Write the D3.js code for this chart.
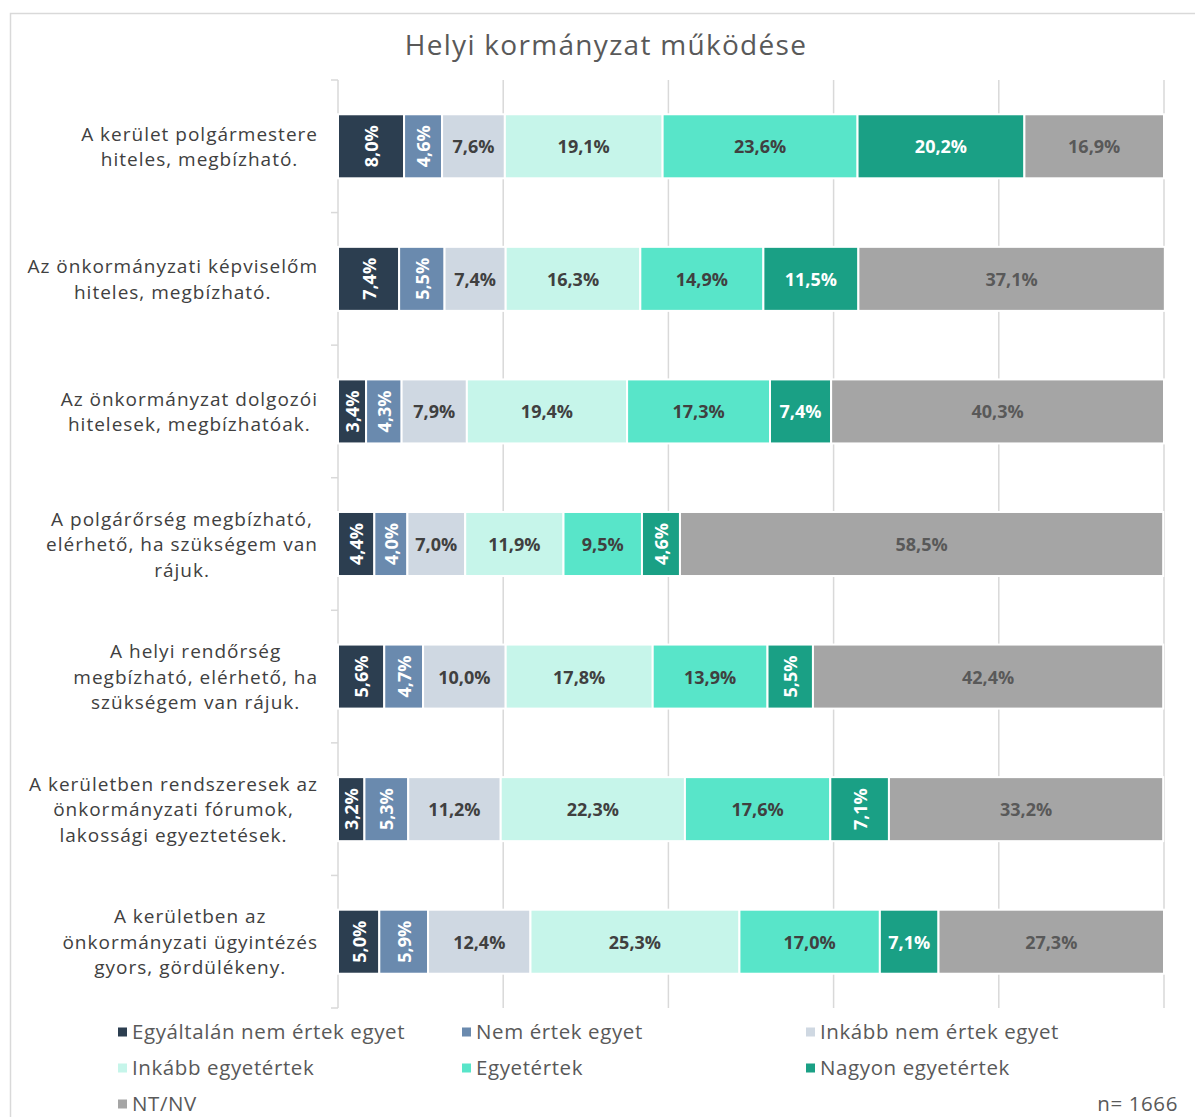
<!DOCTYPE html>
<html>
<head>
<meta charset="utf-8">
<script src="https://cdn.jsdelivr.net/npm/d3@7"></script>
<style>
  html, body { margin: 0; padding: 0; background: #fff; }
  svg { display: block; font-family: "Open Sans", sans-serif; }
</style>
</head>
<body>
<svg id="chart" width="1195" height="1117"></svg>
<script>
const title = "Helyi kormányzat működése";
const categories = [
  "A kerület polgármestere\nhiteles, megbízható.",
  "Az önkormányzati képviselőm\nhiteles, megbízható.",
  "Az önkormányzat dolgozói\nhitelesek, megbízhatóak.",
  "A polgárőrség megbízható,\nelérhető, ha szükségem van\nrájuk.",
  "A helyi rendőrség\nmegbízható, elérhető, ha\nszükségem van rájuk.",
  "A kerületben rendszeresek az\nönkormányzati fórumok,\nlakossági egyeztetések.",
  "A kerületben az\nönkormányzati ügyintézés\ngyors, gördülékeny."
];
const seriesNames = [
  "Egyáltalán nem értek egyet",
  "Nem értek egyet",
  "Inkább nem értek egyet",
  "Inkább egyetértek",
  "Egyetértek",
  "Nagyon egyetértek",
  "NT/NV"
];
const seriesColors = ["#2c3e50", "#6a8aae", "#cfd8e2", "#c6f5ea", "#58e5c9", "#1aa085", "#a5a5a5"];
const labelColors = ["#ffffff", "#ffffff", "#404040", "#404040", "#404040", "#ffffff", "#595959"];
// values per series (each array: one value per category, in category order)
const egyaltalanNem = [8.0, 7.4, 3.4, 4.4, 5.6, 3.2, 5.0];
const nemErtek      = [4.6, 5.5, 4.3, 4.0, 4.7, 5.3, 5.9];
const inkabbNem     = [7.6, 7.4, 7.9, 7.0, 10.0, 11.2, 12.4];
const inkabbIgen    = [19.1, 16.3, 19.4, 11.9, 17.8, 22.3, 25.3];
const egyetert      = [23.6, 14.9, 17.3, 9.5, 13.9, 17.6, 17.0];
const nagyonIgen    = [20.2, 11.5, 7.4, 4.6, 5.5, 7.1, 7.1];
const ntnv          = [16.9, 37.1, 40.3, 58.5, 42.4, 33.2, 27.3];
const seriesValues = [egyaltalanNem, nemErtek, inkabbNem, inkabbIgen, egyetert, nagyonIgen, ntnv];
const xTicks = [0, 20, 40, 60, 80, 100];
// labels drawn vertically: [categoryIndex, seriesIndex]
const verticalLabels = [
  [0,0],[1,0],[2,0],[3,0],[4,0],[5,0],[6,0],
  [0,1],[1,1],[2,1],[3,1],[4,1],[5,1],[6,1],
  [3,5],[4,5],[5,5]
];
const sampleNote = "n= 1666";

const svg = d3.select("#chart");
const W = 1195, H = 1117;
const margin = {left: 338, right: 31, top: 80, bottom: 109};

// frame
svg.append("path")
  .attr("d", `M10.5,${H + 5} L10.5,13.5 L${W + 5},13.5`)
  .attr("fill", "none").attr("stroke", "#d9d9d9").attr("stroke-width", 1.5);

svg.append("text")
  .attr("x", 606).attr("y", 55)
  .attr("text-anchor", "middle")
  .attr("font-size", 28).attr("letter-spacing", 1.3)
  .attr("fill", "#595959")
  .text(title);

const x = d3.scaleLinear().domain([0, 100]).range([margin.left, W - margin.right]);
const y = d3.scaleBand().domain(d3.range(categories.length))
  .range([margin.top, H - margin.bottom]).paddingInner(0.517).paddingOuter(0.2585);

// gridlines
svg.append("g").selectAll("line").data(xTicks.slice(1)).join("line")
  .attr("x1", d => x(d)).attr("x2", d => x(d))
  .attr("y1", margin.top).attr("y2", H - margin.bottom)
  .attr("stroke", "#d9d9d9").attr("stroke-width", 1.5);

// left axis with band ticks
const axisG = svg.append("g");
axisG.append("line")
  .attr("x1", x(0)).attr("x2", x(0))
  .attr("y1", margin.top).attr("y2", H - margin.bottom)
  .attr("stroke", "#d9d9d9").attr("stroke-width", 1.5);
const bounds = d3.range(categories.length + 1).map(i => margin.top + i * (H - margin.top - margin.bottom) / categories.length);
axisG.selectAll("line.tk").data(bounds).join("line").attr("class", "tk")
  .attr("x1", x(0) - 7).attr("x2", x(0))
  .attr("y1", d => d).attr("y2", d => d)
  .attr("stroke", "#d9d9d9").attr("stroke-width", 1.5);

// category labels
const lineH = 25.5;
categories.forEach((c, i) => {
  const lines = c.split("\n");
  const cy = y(i) + y.bandwidth() / 2;
  const t = svg.append("text")
    .attr("font-size", 19).attr("letter-spacing", 1.0).attr("fill", "#404040")
    .attr("text-anchor", "middle");
  lines.forEach((ln, k) => {
    t.append("tspan").attr("x", 0)
      .attr("y", cy + (k - (lines.length - 1) / 2) * lineH + 7)
      .text(ln);
  });
  // right-align the block of centered lines at x=318
  const bb = t.node().getBBox();
  t.attr("transform", `translate(${318 - bb.width / 2},0)`);
});

// stacked bars
const isVertical = (ci, si) => verticalLabels.some(p => p[0] === ci && p[1] === si);
categories.forEach((c, ci) => {
  let acc = 0;
  seriesValues.forEach((vals, si) => {
    const v = vals[ci];
    const x0 = x(acc), x1 = x(acc + v);
    acc += v;
    const g = svg.append("g");
    g.append("rect")
      .attr("x", x0).attr("y", y(ci))
      .attr("width", x1 - x0).attr("height", y.bandwidth())
      .attr("fill", seriesColors[si])
      .attr("stroke", "#ffffff").attr("stroke-width", 2);
    const cx = (x0 + x1) / 2, cy = y(ci) + y.bandwidth() / 2;
    const label = d3.format(".1f")(v).replace(".", ",") + "%";
    const txt = g.append("text")
      .attr("font-size", 18).attr("font-weight", 700)
      .attr("fill", labelColors[si])
      .attr("text-anchor", "middle")
      .attr("dominant-baseline", "central")
      .text(label);
    if (isVertical(ci, si)) {
      txt.attr("transform", `translate(${cx},${cy}) rotate(-90)`);
    } else {
      txt.attr("x", cx).attr("y", cy);
    }
  });
});

// legend
const legCols = [118, 462, 806];
const legRows = [1032, 1068, 1104];
seriesNames.forEach((n, i) => {
  const cx = legCols[i % 3], cy = legRows[Math.floor(i / 3)];
  svg.append("rect").attr("x", cx).attr("y", cy - 4.5).attr("width", 9).attr("height", 9)
    .attr("fill", seriesColors[i]);
  svg.append("text").attr("x", cx + 14).attr("y", cy + 7)
    .attr("font-size", 20.5).attr("letter-spacing", 0.6).attr("fill", "#595959").text(n);
});

svg.append("text").attr("x", 1178).attr("y", 1111)
  .attr("text-anchor", "end").attr("font-size", 20.5).attr("letter-spacing", 0.6).attr("fill", "#595959")
  .text(sampleNote);
</script>
</body>
</html>
